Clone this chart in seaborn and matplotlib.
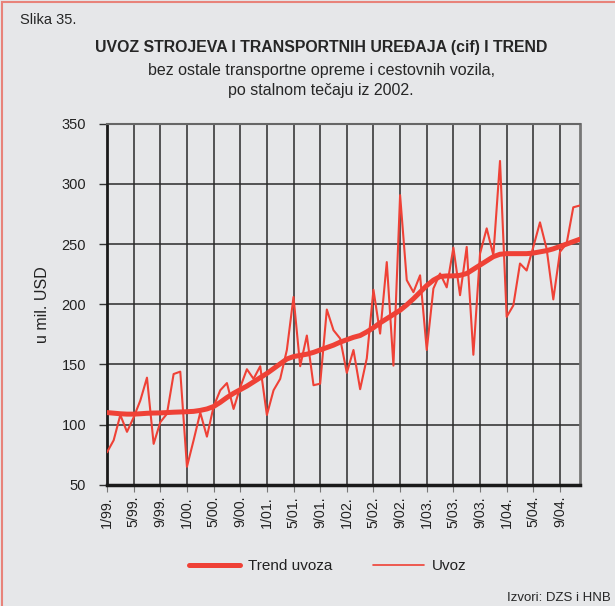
import numpy as np
import pandas as pd
import matplotlib
matplotlib.use("Agg")
import matplotlib.pyplot as plt
import seaborn as sns
from matplotlib.lines import Line2D
from matplotlib.patches import Rectangle

# monthly data 1/99 - 12/04
tick_labels = ['1/99.', '5/99.', '9/99.', '1/00.', '5/00.', '9/00.', '1/01.', '5/01.', '9/01.',
               '1/02.', '5/02.', '9/02.', '1/03.', '5/03.', '9/03.', '1/04.', '5/04.', '9/04.']

uvoz = [77, 87, 108, 94, 106, 120, 139, 84, 102, 109, 142, 144,
        65, 87, 110, 90, 115, 128.5, 134.5, 113, 131, 146, 138, 148.5,
        108, 128.5, 138, 162, 206, 148.5, 174, 132.7, 134, 195.6, 178.4, 171.5,
        143, 162, 129.4, 155, 212, 175.6, 235, 149, 290.6, 220, 210, 224,
        162, 213, 225.5, 214, 247, 207.5, 247.6, 158, 242, 263, 240.7, 319,
        189.5, 199, 233.8, 228, 247.6, 268, 246, 204, 243.5, 250.4, 280.5, 282]

trend = [110, 109.5, 109, 108.7, 108.7, 109, 109.4, 109.6, 109.7, 110, 110.3, 110.5,
         110.7, 111, 111.8, 113, 115, 118.5, 122.5, 126, 129, 132, 135.5, 139,
         142.5, 146.5, 150.5, 154.5, 156.5, 157.5, 158.5, 160, 162, 164, 166, 168.5,
         170.5, 172.5, 174, 177, 180.5, 184.5, 188, 191.5, 195, 199.5, 204.5, 210,
         215.5, 220, 223, 223.5, 223.5, 224, 225.5, 229, 232.5, 236, 239.5, 241.5,
         242, 242, 242, 242, 242.5, 243.5, 244.5, 246, 248, 250, 252, 254]

df = pd.DataFrame({'mjesec': np.arange(len(uvoz)), 'Uvoz': uvoz, 'Trend uvoza': trend})

bg = '#e6e7e9'
red = '#ef4136'

sns.set_style("white")
plt.rcParams['font.family'] = ['Liberation Sans', 'DejaVu Sans']

fig = plt.figure(figsize=(6.15, 6.06), dpi=100, facecolor=bg)
ax = fig.add_axes([0.174, 0.2, 0.769, 0.596])
ax.set_facecolor(bg)

sns.lineplot(data=df, x='mjesec', y='Uvoz', color=red, linewidth=1.5, ax=ax, zorder=3)
sns.lineplot(data=df, x='mjesec', y='Trend uvoza', color=red, linewidth=3.6, ax=ax, zorder=4)

ax.set_xlim(0, 71)
ax.set_ylim(50, 350)
ax.set_yticks(range(50, 351, 50))
ax.set_xticks(range(0, 72, 4))
ax.set_xticklabels(tick_labels, rotation=90, fontsize=10.3, color='#222222')
ax.tick_params(axis='y', labelsize=10.5, labelcolor='#222222', length=6, width=1,
               color='#333333', direction='out', left=True, pad=9)
ax.tick_params(axis='x', length=5, color='#777777', direction='out', bottom=True, pad=3)
ax.grid(True, color='#2b2b2b', linewidth=1.1)
ax.set_axisbelow(True)
ax.set_xlabel('')
ax.set_ylabel('u mil. USD', fontsize=11.5, labelpad=8, color='#222222')

ax.spines['bottom'].set_linewidth(2.5)
ax.spines['bottom'].set_color('#1a1a1a')
ax.spines['left'].set_linewidth(2)
ax.spines['left'].set_color('#1a1a1a')
ax.spines['top'].set_color('#666666')
ax.spines['top'].set_linewidth(1.5)
ax.spines['right'].set_color('#777777')
ax.spines['right'].set_linewidth(2)

fig.text(0.033, 0.967, 'Slika 35.', fontsize=10.5, va='center', ha='left')
fig.text(0.522, 0.921, 'UVOZ STROJEVA I TRANSPORTNIH UREĐAJA (cif) I TREND',
         fontsize=11.4, fontweight='bold', ha='center', va='center')
fig.text(0.522, 0.884, 'bez ostale transportne opreme i cestovnih vozila,',
         fontsize=11.5, ha='center', va='center')
fig.text(0.522, 0.851, 'po stalnom tečaju iz 2002.', fontsize=11.5, ha='center', va='center')

handles = [Line2D([], [], color=red, linewidth=3.6), Line2D([], [], color=red, linewidth=1.2)]
fig.legend(handles, ['Trend uvoza', 'Uvoz'], loc='center', bbox_to_anchor=(0.533, 0.066),
           ncol=2, frameon=False, fontsize=11, handlelength=3.34, columnspacing=2.6,
           handletextpad=0.55, labelcolor='#222222')

fig.text(0.993, 0.013, 'Izvori: DZS i HNB', fontsize=9.5, ha='right', va='center')

fig.patches.append(Rectangle((0.003, -0.01), 1.05, 1.006, transform=fig.transFigure,
                             fill=False, edgecolor='#e8837a', linewidth=1.5))

fig.savefig('out.png', dpi=100, facecolor=bg)
